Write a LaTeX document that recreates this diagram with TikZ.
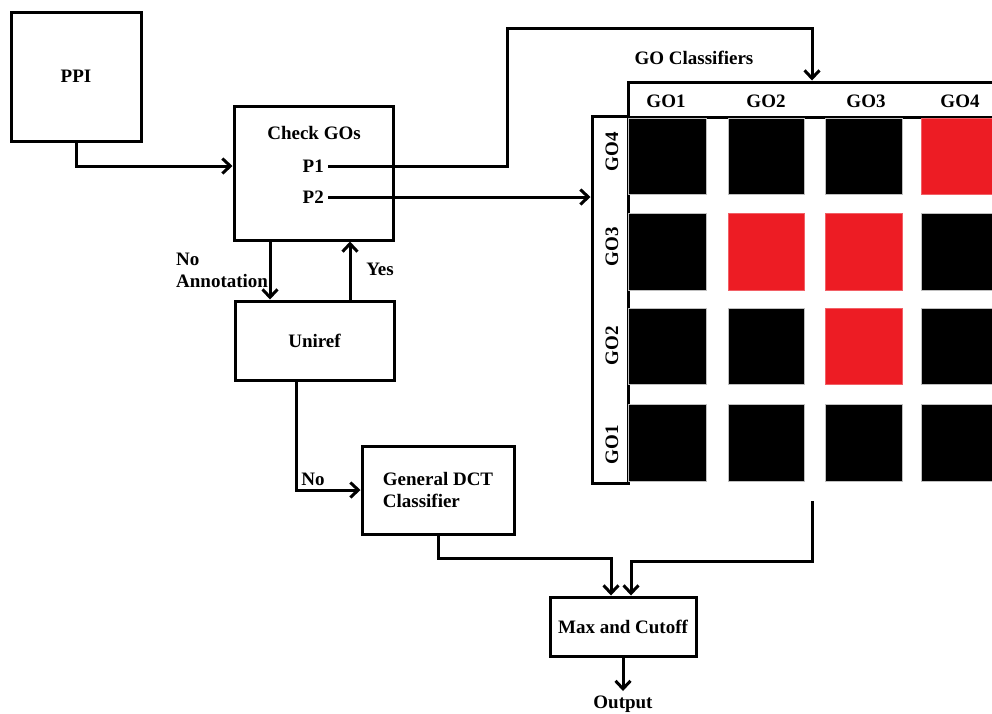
\documentclass[tikz,border=0pt]{standalone}
\usepackage{fontspec}
\setmainfont{Liberation Serif}
\usetikzlibrary{arrows.meta}
\definecolor{gored}{HTML}{ED1C24}
\begin{document}
\begin{tikzpicture}[x=1pt,y=-1pt,
  txt/.style={font=\fontsize{19}{22}\selectfont\bfseries, inner sep=1pt},
  box/.style={draw, line width=3pt, rectangle, inner sep=0pt, txt},
  conn/.style={line width=3pt, -{Straight Barb[length=8pt,width=15pt]}},
  cellb/.style={fill=black, draw=gray!50, line width=0.5pt},
  cellr/.style={fill=gored, draw=gored!70, line width=0.5pt}]
\useasboundingbox (0,0) rectangle (992,713);
\clip (0,0) rectangle (992,713);

% boxes
\node[box, minimum width=130pt, minimum height=129pt] (ppi) at (76,76.5) {PPI};
\node[box, minimum width=159pt, minimum height=134pt] (check) at (313.5,173) {};
\node[txt] (checkt) at (314,133) {Check GOs};
\node[txt, anchor=east] (p1) at (325,166) {P1};
\node[txt, anchor=east] (p2) at (325,197) {P2};
\node[box, minimum width=159pt, minimum height=79pt] (uniref) at (314.5,340.5) {Uniref};
\node[box, minimum width=152pt, minimum height=88pt, align=left] (dct) at (438,490) {General DCT\\Classifier};
\node[box, minimum width=146pt, minimum height=59pt] (maxc) at (623,626.5) {Max and Cutoff};
\node[txt] (out) at (623,704) {Output};

% GO classifier grid
\node[box, minimum width=368pt, minimum height=35pt] (hdr) at (812,99.5) {};
\node[box, minimum width=36pt, minimum height=367pt] (col) at (610,299.5) {};
\node[txt] (gocl) at (694,58) {GO Classifiers};
\node[txt] (h1) at (666,101) {GO1};
\node[txt] (h2) at (766,101) {GO2};
\node[txt] (h3) at (866,101) {GO3};
\node[txt] (h4) at (960,101) {GO4};
\node[txt, rotate=90] (v4) at (612,152) {GO4};
\node[txt, rotate=90] (v3) at (612,247) {GO3};
\node[txt, rotate=90] (v2) at (612,346) {GO2};
\node[txt, rotate=90] (v1) at (612,445) {GO1};

% cells: row 1
\draw[cellb] (628,118) rectangle (706,194);
\draw[cellb] (728,118) rectangle (804,194);
\draw[cellb] (825,118) rectangle (902,194);
\draw[cellr] (921,118) rectangle (996,194);
% row 2
\draw[cellb] (628,213) rectangle (706,290);
\draw[cellr] (728,213) rectangle (804,290);
\draw[cellr] (825,213) rectangle (902,290);
\draw[cellb] (921,213) rectangle (996,290);
% row 3
\draw[cellb] (628,308) rectangle (706,384);
\draw[cellb] (728,308) rectangle (804,384);
\draw[cellr] (825,308) rectangle (902,384);
\draw[cellb] (921,308) rectangle (996,384);
% row 4
\draw[cellb] (628,404) rectangle (706,481);
\draw[cellb] (728,404) rectangle (804,481);
\draw[cellb] (825,404) rectangle (902,481);
\draw[cellb] (921,404) rectangle (996,481);

% labels
\node[txt, align=left, anchor=west] (noann) at (175,270) {No\\Annotation};
\node[txt] (yes) at (380,269) {Yes};
\node[txt] (no) at (313,479) {No};

% coordinates for bends
\coordinate (topbend) at (507,28);
\coordinate (gostart) at (812,501);
\coordinate (j1) at (611,558);
\coordinate (j2) at (631,561);
\coordinate (outarrow) at (623,691);

% connectors
\draw[conn] (ppi.south) |- (check.west |- p1.east);
\draw[conn] ([xshift=3pt]p1.east) -| (topbend) -| (hdr.north);
\draw[conn] ([xshift=3pt]p2.east) -- (p2.east -| col.west);
\draw[conn] ([xshift=-43.5pt]check.south) -- ([xshift=-43.5pt]check.south |- uniref.north);
\draw[conn] ([xshift=35.5pt]uniref.north) -- ([xshift=35.5pt]uniref.north |- check.south);
\draw[conn] ([xshift=-18.5pt]uniref.south) |- (dct.west);
\draw[conn] (dct.south) |- (j1) -- (j1 |- maxc.north);
\draw[conn] (gostart) |- (j2) -- (j2 |- maxc.north);
\draw[conn] (maxc.south) -- (outarrow);
\end{tikzpicture}
\end{document}
